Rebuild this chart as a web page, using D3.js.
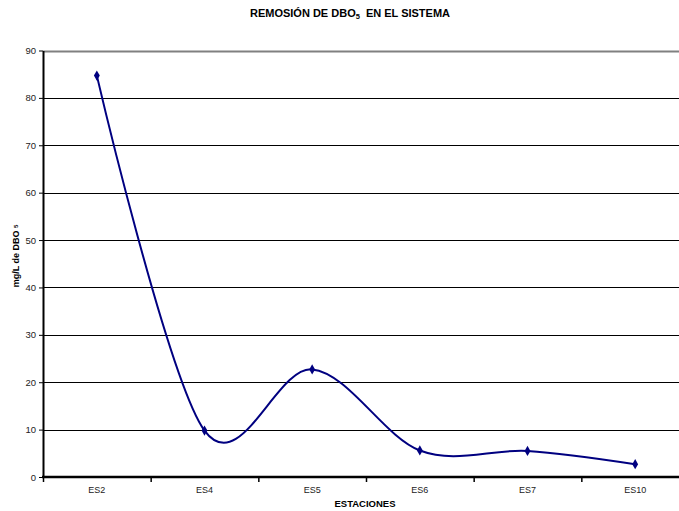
<!DOCTYPE html>
<html>
<head>
<meta charset="utf-8">
<script src="https://cdn.jsdelivr.net/npm/d3@7"></script>
<style>
  body { margin: 0; background: #fff; }
  svg { display: block; font-family: Arial, "Liberation Sans", sans-serif; }
</style>
</head>
<body>
<div id="chart"></div>
<script>
// data
var stations = ["ES2", "ES4", "ES5", "ES6", "ES7", "ES10"];
var dbo = [84.7, 9.8, 22.7, 5.6, 5.5, 2.7];
var yTicks = [0, 10, 20, 30, 40, 50, 60, 70, 80, 90];

var W = 679, H = 511;
// plot area runs past the right edge of the picture, as in the reference
var plot = {left: 43, right: 689, top: 50.5, bottom: 477};

var svg = d3.select("#chart").append("svg")
    .attr("width", W)
    .attr("height", H);

var x = d3.scaleBand().domain(stations).range([plot.left, plot.right]);
var y = d3.scaleLinear().domain([0, 90]).range([plot.bottom, plot.top]);

// gridlines
svg.append("g")
    .selectAll("line")
    .data(yTicks.filter(function(d) { return d > 0; }))
    .enter().append("line")
    .attr("x1", plot.left)
    .attr("x2", plot.right)
    .attr("y1", function(d) { return Math.round(y(d)) + 0.5; })
    .attr("y2", function(d) { return Math.round(y(d)) + 0.5; })
    .attr("stroke", function(d) { return d === 90 ? "#808080" : "#000"; })
    .attr("stroke-width", function(d) { return d === 90 ? 2 : 1; });

// y axis
var yAxis = svg.append("g")
    .attr("transform", "translate(" + plot.left + ",0)")
    .call(d3.axisLeft(y).tickValues(yTicks).tickSize(4).tickPadding(3).tickSizeOuter(0));
yAxis.select(".domain").attr("stroke", "#000").attr("stroke-width", 2);
yAxis.selectAll(".tick line").attr("stroke", "#000");
yAxis.selectAll("text")
    .attr("font-size", 9.5)
    .attr("fill", "#222")
    .attr("font-family", "Arial, 'Liberation Sans', sans-serif");

// x axis: ticks between categories
var xAxis = svg.append("g")
    .attr("transform", "translate(0," + plot.bottom + ")");
xAxis.append("line")
    .attr("x1", plot.left - 1)
    .attr("x2", plot.right)
    .attr("stroke", "#000")
    .attr("stroke-width", 2.5);
xAxis.selectAll(".xt")
    .data(stations)
    .enter().append("line")
    .attr("class", "xt")
    .attr("x1", function(d) { return x(d) + 0.5; })
    .attr("x2", function(d) { return x(d) + 0.5; })
    .attr("y1", 0)
    .attr("y2", 5)
    .attr("stroke", "#000")
    .attr("stroke-width", 1.5);
xAxis.selectAll("text")
    .data(stations)
    .enter().append("text")
    .attr("x", function(d) { return x(d) + x.bandwidth() / 2; })
    .attr("y", 16)
    .attr("text-anchor", "middle")
    .attr("font-size", 9)
    .attr("fill", "#222")
    .text(function(d) { return d; });

// smoothed line (Excel style)
var line = d3.line()
    .x(function(d, i) { return x(stations[i]) + x.bandwidth() / 2; })
    .y(function(d) { return y(d); })
    .curve(d3.curveCardinal.tension(0));

svg.append("path")
    .datum(dbo)
    .attr("fill", "none")
    .attr("stroke", "#000080")
    .attr("stroke-width", 2)
    .attr("d", line);

svg.selectAll(".pt")
    .data(dbo)
    .enter().append("path")
    .attr("class", "pt")
    .attr("transform", function(d, i) {
        return "translate(" + (x(stations[i]) + x.bandwidth() / 2) + "," + y(d) + ")";
    })
    .attr("d", d3.symbol().type(d3.symbolDiamond).size(30))
    .attr("fill", "#000080");

// title
var title = svg.append("text")
    .attr("x", 350)
    .attr("y", 17)
    .attr("text-anchor", "middle")
    .attr("font-size", 11)
    .attr("font-weight", "bold")
    .attr("fill", "#000");
title.append("tspan").text("REMOSIÓN DE DBO");
title.append("tspan").attr("font-size", 7.5).attr("dy", 2).text("5");
title.append("tspan").attr("dy", -2).attr("dx", 6).text("EN EL SISTEMA");

// axis titles
svg.append("text")
    .attr("x", 365)
    .attr("y", 507)
    .attr("text-anchor", "middle")
    .attr("font-size", 9.5)
    .attr("font-weight", "bold")
    .text("ESTACIONES");

var ylab = svg.append("text")
    .attr("transform", "translate(19,256) rotate(-90)")
    .attr("text-anchor", "middle")
    .attr("font-size", 9)
    .attr("font-weight", "bold");
ylab.append("tspan").text("mg/L de DBO ");
ylab.append("tspan").attr("font-size", 6).attr("dy", -1).text("5");
</script>
</body>
</html>
